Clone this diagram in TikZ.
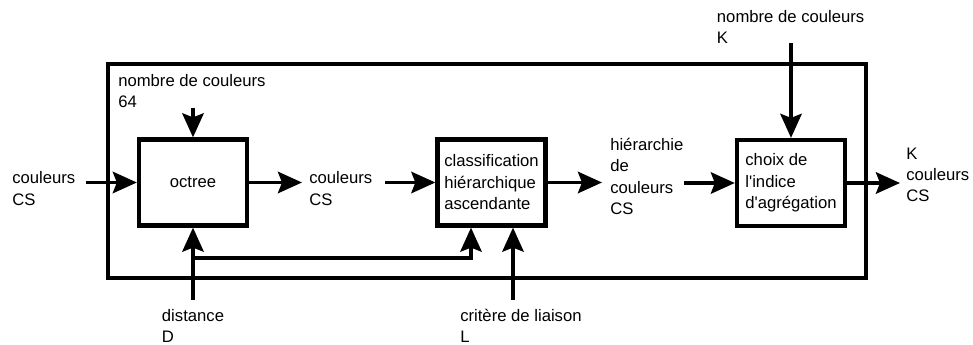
\documentclass[tikz,border=0pt]{standalone}
\usepackage{fontspec}
\setmainfont{Liberation Sans}[Ligatures=TeXOff]
\usetikzlibrary{arrows.meta}
\begin{document}
\begin{tikzpicture}[x=0.75pt,y=-0.75pt,
  every node/.style={font=\fontsize{12.5}{16.1}\selectfont},
  lbl/.style={anchor=base west, align=left, inner sep=0pt},
  blk/.style={draw, line width=3.2pt, minimum width=81pt, minimum height=64.5pt, inner sep=0pt, align=left},
  frm/.style={draw, line width=2.8pt, minimum width=568.5pt, minimum height=160.5pt, inner sep=0pt},
  flow/.style={line width=2.8pt, -{Stealth[length=18pt,width=16pt,inset=3pt]}},
  wire/.style={line width=2.8pt}]
\useasboundingbox (0,0) rectangle (973,345);
\node[frm] (frame) at (487,171) {};
\node[blk] (oct) at (193,182.5) {octree};
\node[blk] (cah) at (491.5,182.5) {classification\\hiérarchique\\ascendante};
\node[blk] (cho) at (791,183) {choix de\\l'indice\\d'agrégation};
\node[lbl] (in) at (12,205) {couleurs\\CS};
\node[lbl] (n64) at (118,108) {nombre de couleurs\\64};
\node[lbl] (mid) at (309,205) {couleurs\\CS};
\node[lbl] (hier) at (610,214.5) {hiérarchie\\de\\couleurs\\CS};
\node[lbl] (nK) at (716.7,43.5) {nombre de couleurs\\K};
\node[lbl] (out) at (906,202) {K\\couleurs\\CS};
\node[lbl] (dist) at (161.7,342.5) {distance\\D};
\node[lbl] (crit) at (460,342.5) {critère de liaison\\L};
\coordinate (inS) at (86,182.5);
\coordinate (n64S) at (193,108);
\coordinate (midT) at (302,182.5);
\coordinate (midS) at (385,182.5);
\coordinate (hierT) at (602,182.5);
\coordinate (hierS) at (684,183);
\coordinate (nKS) at (791,43);
\coordinate (outT) at (900,183);
\coordinate (distS) at (193,300);
\coordinate (br) at (193,258);
\coordinate (j) at (471,258);
\coordinate (critS) at (513,300);
\draw[flow] (inS) -- (oct.west);
\draw[flow] (n64S) -- (oct.north);
\draw[flow] (oct.east) -- (midT);
\draw[flow] (midS) -- (cah.west);
\draw[flow] (cah.east) -- (hierT);
\draw[flow] (hierS) -- (cho.west);
\draw[flow] (nKS) -- (cho.north);
\draw[flow] (cho.east) -- (outT);
\draw[flow] (distS) -- (oct.south);
\draw[flow] (br) -- (j) -- (j |- cah.south);
\draw[flow] (critS) -- (critS |- cah.south);
\end{tikzpicture}
\end{document}
